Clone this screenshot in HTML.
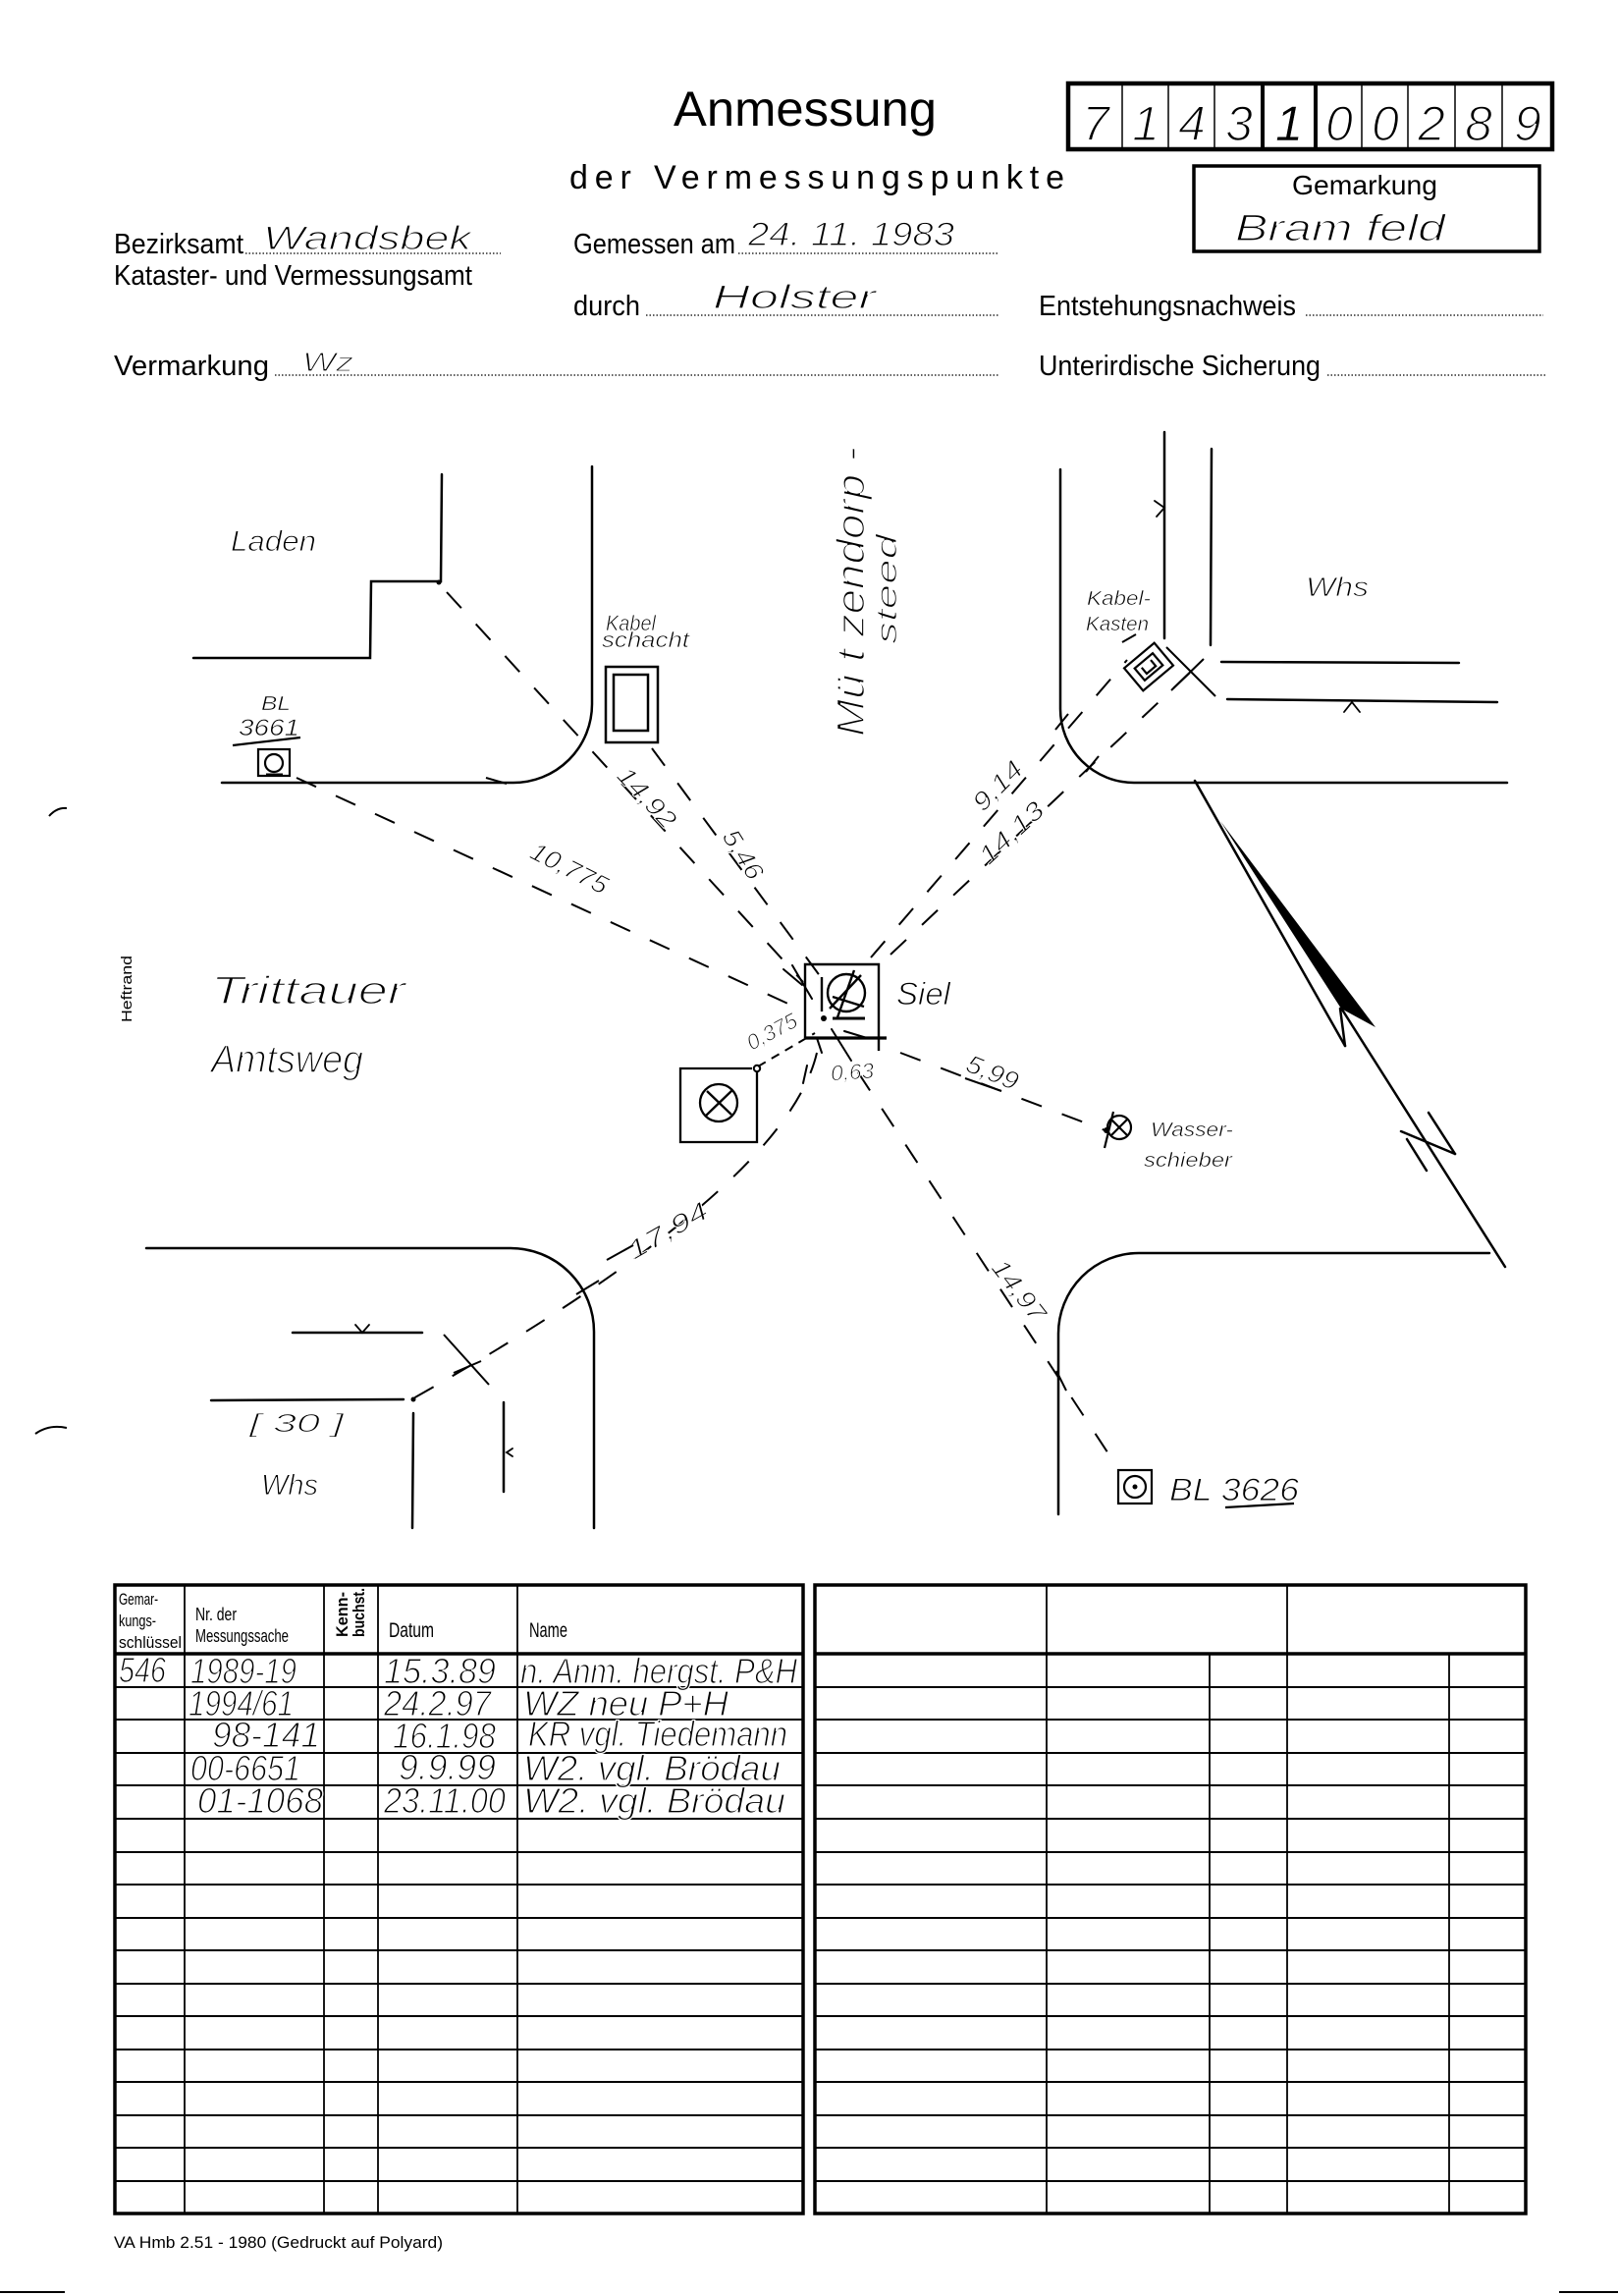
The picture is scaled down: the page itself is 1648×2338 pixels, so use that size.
<!DOCTYPE html>
<html><head><meta charset="utf-8">
<style>
html,body{margin:0;padding:0;background:#fff;}
svg{display:block;}
.p{font-family:"Liberation Sans",sans-serif;fill:#000;}
.h{font-family:"Liberation Sans",sans-serif;font-style:italic;fill:#000;stroke:#fff;stroke-width:1;}
</style></head><body>
<svg width="1648" height="2338" viewBox="0 0 1648 2338" xmlns="http://www.w3.org/2000/svg">
<rect width="1648" height="2338" fill="#fff"/>

<!-- ===== HEADER ===== -->
<text class="p" x="686" y="128" font-size="50" textLength="268" lengthAdjust="spacingAndGlyphs">Anmessung</text>
<text class="p" x="580" y="192" font-size="34" textLength="504" lengthAdjust="spacing">der Vermessungspunkte</text>

<!-- code box -->
<g stroke="#000" fill="none">
<rect x="1088" y="85" width="493" height="67" stroke-width="4.5"/>
<g stroke-width="1.5">
<line x1="1143" y1="85" x2="1143" y2="152"/>
<line x1="1190" y1="85" x2="1190" y2="152"/>
<line x1="1237" y1="85" x2="1237" y2="152"/>
<line x1="1387" y1="85" x2="1387" y2="152"/>
<line x1="1434" y1="85" x2="1434" y2="152"/>
<line x1="1482" y1="85" x2="1482" y2="152"/>
<line x1="1530" y1="85" x2="1530" y2="152"/>
</g>
<line x1="1286" y1="85" x2="1286" y2="152" stroke-width="4"/>
<line x1="1340" y1="85" x2="1340" y2="152" stroke-width="4"/>
</g>
<g class="h" font-size="50" text-anchor="middle" style="stroke-width:1.6">
<text x="1116" y="143">7</text>
<text x="1167" y="143">1</text>
<text x="1214" y="143">4</text>
<text x="1262" y="143">3</text>
<text x="1313" y="143" style="stroke-width:0.4">1</text>
<text x="1364" y="143">0</text>
<text x="1411" y="143">0</text>
<text x="1458" y="143">2</text>
<text x="1506" y="143">8</text>
<text x="1556" y="143">9</text>
</g>

<!-- Gemarkung box -->
<rect x="1216" y="169" width="352" height="87" fill="none" stroke="#000" stroke-width="3.5"/>
<text class="p" x="1316" y="198" font-size="28" textLength="148" lengthAdjust="spacingAndGlyphs">Gemarkung</text>
<text class="h" x="1258" y="245" font-size="38" textLength="214" lengthAdjust="spacingAndGlyphs" style="stroke-width:1.3">Bram feld</text>

<!-- labels -->
<g class="p" font-size="29">
<text x="116" y="258" textLength="132" lengthAdjust="spacingAndGlyphs">Bezirksamt</text>
<text x="116" y="290" textLength="365" lengthAdjust="spacingAndGlyphs">Kataster- und Vermessungsamt</text>
<text x="584" y="258" textLength="165" lengthAdjust="spacingAndGlyphs">Gemessen am</text>
<text x="584" y="321" textLength="68" lengthAdjust="spacingAndGlyphs">durch</text>
<text x="1058" y="321" textLength="262" lengthAdjust="spacingAndGlyphs">Entstehungsnachweis</text>
<text x="116" y="382" textLength="158" lengthAdjust="spacingAndGlyphs">Vermarkung</text>
<text x="1058" y="382" textLength="287" lengthAdjust="spacingAndGlyphs">Unterirdische Sicherung</text>
</g>
<g stroke="#000" stroke-width="1.3" stroke-dasharray="1.5 2">
<line x1="250" y1="258" x2="510" y2="258"/>
<line x1="752" y1="258" x2="1018" y2="258"/>
<line x1="658" y1="321" x2="1018" y2="321"/>
<line x1="1330" y1="321" x2="1572" y2="321"/>
<line x1="280" y1="382" x2="1018" y2="382"/>
<line x1="1352" y1="382" x2="1574" y2="382"/>
</g>
<g class="h" style="stroke-width:1.2">
<text x="268" y="254" font-size="34" textLength="212" lengthAdjust="spacingAndGlyphs">Wandsbek</text>
<text x="762" y="250" font-size="34" textLength="210" lengthAdjust="spacingAndGlyphs">24. 11. 1983</text>
<text x="726" y="314" font-size="34" textLength="166" lengthAdjust="spacingAndGlyphs">Holster</text>
<text x="308" y="378" font-size="28" textLength="52" lengthAdjust="spacingAndGlyphs">Wz</text>
</g>

<!-- Heftrand & margin marks -->
<text class="p" font-size="15" transform="translate(134,1041) rotate(-90)" textLength="68" lengthAdjust="spacingAndGlyphs">Heftrand</text>
<g stroke="#000" fill="none" stroke-width="2">
<path d="M50 831 Q58 822 68 823"/>
<path d="M36 1460 Q50 1450 68 1454"/>
<line x1="0" y1="2334" x2="66" y2="2334"/>
<line x1="1588" y1="2334" x2="1648" y2="2334"/>
</g>

<!-- ===== SKETCH ===== -->
<g stroke="#000" fill="none" stroke-width="2.5" stroke-linecap="round">
<path d="M603 475 L603 717 A80 80 0 0 1 523 797 L226 797"/>
<path d="M1080 478 L1080 722 A75 75 0 0 0 1155 797 L1535 797"/>
<path d="M149 1271 L520 1271 A85 85 0 0 1 605 1356 L605 1556"/>
<path d="M1517 1276 L1160 1276 A82 82 0 0 0 1078 1358 L1078 1542"/>
<path d="M450 483 L449 592 L378 592 L377 670 L197 670"/>
<line x1="1186" y1="440" x2="1186" y2="650"/>
<line x1="1234" y1="457" x2="1233" y2="657"/>
<line x1="1244" y1="674" x2="1486" y2="675"/>
<line x1="1250" y1="712" x2="1525" y2="715"/>
<line x1="298" y1="1357" x2="430" y2="1357"/>
<line x1="215" y1="1426" x2="411" y2="1425"/>
<line x1="421" y1="1439" x2="420" y2="1556"/>
<line x1="513" y1="1428" x2="513" y2="1519"/>
</g>
<g stroke="#000" fill="none" stroke-width="1.8" stroke-linecap="round">
<path d="M1176 510 L1186 517 L1178 526"/>
<path d="M1369 725 L1377 715 L1385 725"/>
<path d="M362 1349 L369 1357 L376 1349"/>
<path d="M522 1475 L516 1479 L522 1483"/>
</g>
<circle cx="447" cy="593" r="2.5" fill="#000"/>
<circle cx="421" cy="1425" r="2.5" fill="#000"/>

<!-- Kabelschacht -->
<g stroke="#000" fill="none" stroke-width="2.5">
<rect x="617" y="679" width="53" height="77"/>
<rect x="625" y="687" width="35" height="57"/>
</g>
<!-- BL 3661 -->
<g stroke="#000" fill="none" stroke-width="2.2">
<rect x="263" y="763" width="32" height="27"/>
<circle cx="279" cy="777" r="9"/>
<line x1="237" y1="759" x2="306" y2="751"/>
<line x1="271" y1="789" x2="288" y2="789" stroke-width="3"/>
</g>
<!-- Kabelkasten -->
<g stroke="#000" fill="none" stroke-width="2.2" transform="translate(1170,679) rotate(-40)">
<rect x="-20" y="-15" width="40" height="30"/>
<rect x="-12" y="-8" width="24" height="16"/>
<path d="M-6 -4 L-6 4 L6 4 L6 -4"/>
</g>
<g stroke="#000" stroke-width="2">
<line x1="1188" y1="659" x2="1238" y2="709"/>
<line x1="1193" y1="703" x2="1226" y2="671"/>
<line x1="1075" y1="743" x2="1088" y2="727"/>
<line x1="1106" y1="786" x2="1119" y2="770"/>
<line x1="1143" y1="654" x2="1157" y2="646"/>
<line x1="587" y1="1318" x2="610" y2="1304"/>
<line x1="452" y1="1359" x2="498" y2="1410"/>
<line x1="462" y1="1398" x2="490" y2="1386"/>
<line x1="495" y1="792" x2="516" y2="798"/>
<line x1="1076" y1="1396" x2="1086" y2="1416"/>
</g>

<!-- Siel -->
<g stroke="#000" fill="none" stroke-width="2.4">
<path d="M820 1057 L820 982 L895 982 L895 1070"/>
<line x1="820" y1="1057" x2="903" y2="1057" stroke-width="3.2"/>
<circle cx="862" cy="1011" r="19"/>
<line x1="870" y1="988" x2="853" y2="1036"/>
<line x1="845" y1="1027" x2="877" y2="993"/>
<line x1="848" y1="1015" x2="880" y2="1025"/>
<line x1="837" y1="995" x2="837" y2="1030"/>
<line x1="848" y1="1037" x2="881" y2="1037" stroke-width="3"/>
</g>
<circle cx="839" cy="1037" r="3" fill="#000"/>
<g stroke="#000" stroke-width="2" stroke-linecap="round">
<line x1="798" y1="987" x2="817" y2="1003"/>
<line x1="807" y1="983" x2="827" y2="1017"/>
<line x1="832" y1="1057" x2="837" y2="1072"/>
<line x1="847" y1="1048" x2="867" y2="1080"/>
<line x1="860" y1="1050" x2="883" y2="1057"/>
<line x1="822" y1="1085" x2="818" y2="1103"/>
</g>

<!-- small box with cross -->
<g stroke="#000" fill="none" stroke-width="2.3">
<path d="M766 1088 L693 1088 L693 1163 L771 1163 L771 1092"/>
<circle cx="732" cy="1123" r="19"/>
<line x1="719" y1="1136" x2="746" y2="1110"/>
<line x1="720" y1="1111" x2="745" y2="1135"/>
<circle cx="771" cy="1088" r="3.2" stroke-width="2"/>
</g>

<!-- Wasserschieber -->
<g stroke="#000" fill="none" stroke-width="2.2">
<circle cx="1140" cy="1148" r="12"/>
<line x1="1132" y1="1140" x2="1148" y2="1156"/>
<line x1="1132" y1="1156" x2="1148" y2="1140"/>
<line x1="1134" y1="1132" x2="1125" y2="1169"/>
</g>
<circle cx="1127" cy="1151" r="3" fill="#000"/>

<!-- BL 3626 -->
<g stroke="#000" fill="none" stroke-width="2.2">
<rect x="1139" y="1497" width="34" height="34"/>
<circle cx="1156" cy="1514" r="11"/>
<line x1="1248" y1="1535" x2="1318" y2="1531"/>
</g>
<circle cx="1156" cy="1514" r="2.5" fill="#000"/>

<!-- North arrow -->
<g stroke="#000" fill="none" stroke-width="2.5" stroke-linecap="round">
<line x1="1217" y1="795" x2="1370" y2="1065"/>
<line x1="1365" y1="1027" x2="1370" y2="1065"/>
<line x1="1367" y1="1028" x2="1533" y2="1290"/>
<line x1="1433" y1="1160" x2="1453" y2="1192"/>
<line x1="1455" y1="1133" x2="1482" y2="1175"/>
<line x1="1427" y1="1152" x2="1482" y2="1175"/>
</g>
<polygon points="1243,836 1401,1046 1366,1027" fill="#000"/>

<!-- dashed measurement lines -->
<g stroke="#000" fill="none" stroke-width="2" stroke-dasharray="22 22">
<line x1="455" y1="603" x2="818" y2="1000"/>
<line x1="664" y1="762" x2="836" y2="995"/>
<line x1="302" y1="792" x2="820" y2="1030"/>
<line x1="887" y1="975" x2="1148" y2="672"/>
<line x1="907" y1="972" x2="1213" y2="684"/>
<line x1="917" y1="1072" x2="1128" y2="1152"/>
<line x1="874" y1="1092" x2="1140" y2="1497"/>
<path d="M832 1072 Q800 1210 421 1424"/>
</g>
<line x1="772" y1="1086" x2="830" y2="1052" stroke="#000" stroke-width="2" stroke-dasharray="9 7"/>

<!-- sketch handwritten labels -->
<g class="h">
<text x="235" y="561" font-size="30" textLength="87" lengthAdjust="spacingAndGlyphs">Laden</text>
<text x="266" y="723" font-size="20" textLength="30" lengthAdjust="spacingAndGlyphs" style="stroke-width:0.6">BL</text>
<text x="243" y="749" font-size="24" textLength="62" lengthAdjust="spacingAndGlyphs" style="stroke-width:0.7">3661</text>
<text x="617" y="642" font-size="22" textLength="51" lengthAdjust="spacingAndGlyphs" style="stroke-width:0.7">Kabel</text>
<text x="613" y="659" font-size="22" textLength="89" lengthAdjust="spacingAndGlyphs" style="stroke-width:0.7">schacht</text>
<text x="1107" y="616" font-size="20" textLength="65" lengthAdjust="spacingAndGlyphs" style="stroke-width:0.6">Kabel-</text>
<text x="1106" y="642" font-size="20" textLength="64" lengthAdjust="spacingAndGlyphs" style="stroke-width:0.6">Kasten</text>
<text x="1330" y="607" font-size="28" textLength="64" lengthAdjust="spacingAndGlyphs">Whs</text>
<text x="913" y="1023" font-size="32" textLength="55" lengthAdjust="spacingAndGlyphs">Siel</text>
<text x="215" y="1022" font-size="40" textLength="198" lengthAdjust="spacingAndGlyphs" style="stroke-width:1.5">Trittauer</text>
<text x="215" y="1092" font-size="40" textLength="155" lengthAdjust="spacingAndGlyphs" style="stroke-width:1.5">Amtsweg</text>
<text x="1172" y="1157" font-size="20" textLength="84" lengthAdjust="spacingAndGlyphs" style="stroke-width:0.6">Wasser-</text>
<text x="1165" y="1188" font-size="20" textLength="90" lengthAdjust="spacingAndGlyphs" style="stroke-width:0.6">schieber</text>
<text x="1191" y="1528" font-size="32" textLength="132" lengthAdjust="spacingAndGlyphs">BL  3626</text>
<text x="254" y="1458" font-size="26" textLength="96" lengthAdjust="spacingAndGlyphs">[ 30 ]</text>
<text x="266" y="1522" font-size="30" textLength="58" lengthAdjust="spacingAndGlyphs">Whs</text>
<text font-size="40" transform="translate(880,750) rotate(-90)" textLength="295" lengthAdjust="spacingAndGlyphs" style="stroke-width:1.6">Mü t zendorp -</text>
<text font-size="30" transform="translate(913,656) rotate(-90)" textLength="112" lengthAdjust="spacingAndGlyphs" style="stroke-width:1.2">steed</text>
<g font-size="26" text-anchor="middle" style="stroke-width:0.9">
<text transform="translate(659,812) rotate(47)" y="9" textLength="75" lengthAdjust="spacingAndGlyphs">14,92</text>
<text transform="translate(757,870) rotate(58)" y="9" textLength="55" lengthAdjust="spacingAndGlyphs">5,46</text>
<text transform="translate(580,884) rotate(27)" y="9" textLength="85" lengthAdjust="spacingAndGlyphs">10,775</text>
<text transform="translate(1016,800) rotate(-45)" y="9" textLength="60" lengthAdjust="spacingAndGlyphs">9,14</text>
<text transform="translate(1030,848) rotate(-43)" y="9" textLength="80" lengthAdjust="spacingAndGlyphs">14,13</text>
<text transform="translate(1011,1092) rotate(22)" y="9" textLength="55" lengthAdjust="spacingAndGlyphs">5,99</text>
<text transform="translate(1038,1314) rotate(52)" y="9" textLength="72" lengthAdjust="spacingAndGlyphs">14,97</text>
<text transform="translate(680,1253) rotate(-30)" y="9" textLength="90" lengthAdjust="spacingAndGlyphs">17,94</text>
<text transform="translate(786,1050) rotate(-28)" y="8" font-size="22" textLength="55" lengthAdjust="spacingAndGlyphs">0,375</text>
<text transform="translate(868,1091) rotate(-4)" y="8" font-size="22" textLength="44" lengthAdjust="spacingAndGlyphs">0,63</text>
</g>
</g>
<g stroke="#000" stroke-width="2">
<line x1="983" y1="1098" x2="1020" y2="1111"/>
<line x1="618" y1="1283" x2="645" y2="1268"/>
</g>

<!-- ===== TABLES ===== -->
<g stroke="#000" fill="none">
<rect x="117" y="1614" width="701" height="640" stroke-width="3.5"/>
<rect x="830" y="1614" width="724" height="640" stroke-width="3.5"/>
<line x1="117" y1="1684" x2="818" y2="1684" stroke-width="3.5"/>
<line x1="830" y1="1684" x2="1554" y2="1684" stroke-width="3.5"/>
<g stroke-width="1.8">
<line x1="188" y1="1614" x2="188" y2="2254"/>
<line x1="330" y1="1614" x2="330" y2="2254"/>
<line x1="385" y1="1614" x2="385" y2="2254"/>
<line x1="527" y1="1614" x2="527" y2="2254"/>
<line x1="1066" y1="1614" x2="1066" y2="2254"/>
<line x1="1311" y1="1614" x2="1311" y2="2254"/>
<line x1="1232" y1="1684" x2="1232" y2="2254"/>
<line x1="1476" y1="1684" x2="1476" y2="2254"/>
</g>
<g stroke-width="2">
<line x1="117" y1="1718" x2="818" y2="1718"/><line x1="830" y1="1718" x2="1554" y2="1718"/>
<line x1="117" y1="1751" x2="818" y2="1751"/><line x1="830" y1="1751" x2="1554" y2="1751"/>
<line x1="117" y1="1785" x2="818" y2="1785"/><line x1="830" y1="1785" x2="1554" y2="1785"/>
<line x1="117" y1="1818" x2="818" y2="1818"/><line x1="830" y1="1818" x2="1554" y2="1818"/>
<line x1="117" y1="1852" x2="818" y2="1852"/><line x1="830" y1="1852" x2="1554" y2="1852"/>
<line x1="117" y1="1886" x2="818" y2="1886"/><line x1="830" y1="1886" x2="1554" y2="1886"/>
<line x1="117" y1="1919" x2="818" y2="1919"/><line x1="830" y1="1919" x2="1554" y2="1919"/>
<line x1="117" y1="1953" x2="818" y2="1953"/><line x1="830" y1="1953" x2="1554" y2="1953"/>
<line x1="117" y1="1986" x2="818" y2="1986"/><line x1="830" y1="1986" x2="1554" y2="1986"/>
<line x1="117" y1="2020" x2="818" y2="2020"/><line x1="830" y1="2020" x2="1554" y2="2020"/>
<line x1="117" y1="2053" x2="818" y2="2053"/><line x1="830" y1="2053" x2="1554" y2="2053"/>
<line x1="117" y1="2087" x2="818" y2="2087"/><line x1="830" y1="2087" x2="1554" y2="2087"/>
<line x1="117" y1="2120" x2="818" y2="2120"/><line x1="830" y1="2120" x2="1554" y2="2120"/>
<line x1="117" y1="2154" x2="818" y2="2154"/><line x1="830" y1="2154" x2="1554" y2="2154"/>
<line x1="117" y1="2187" x2="818" y2="2187"/><line x1="830" y1="2187" x2="1554" y2="2187"/>
<line x1="117" y1="2221" x2="818" y2="2221"/><line x1="830" y1="2221" x2="1554" y2="2221"/>
</g>
</g>

<!-- table header text -->
<g class="p" font-size="17">
<text x="121" y="1634" textLength="40" lengthAdjust="spacingAndGlyphs">Gemar-</text>
<text x="121" y="1656" textLength="38" lengthAdjust="spacingAndGlyphs">kungs-</text>
<text x="121" y="1678" textLength="64" lengthAdjust="spacingAndGlyphs">schlüssel</text>
<text x="199" y="1650" font-size="18" textLength="42" lengthAdjust="spacingAndGlyphs">Nr. der</text>
<text x="199" y="1672" font-size="18" textLength="95" lengthAdjust="spacingAndGlyphs">Messungssache</text>
<text font-size="17" font-weight="bold" transform="translate(354,1667) rotate(-90)" textLength="46" lengthAdjust="spacingAndGlyphs">Kenn-</text>
<text font-size="17" font-weight="bold" transform="translate(371,1667) rotate(-90)" textLength="50" lengthAdjust="spacingAndGlyphs">buchst.</text>
<text x="396" y="1667" font-size="21" textLength="46" lengthAdjust="spacingAndGlyphs">Datum</text>
<text x="539" y="1667" font-size="21" textLength="39" lengthAdjust="spacingAndGlyphs">Name</text>
</g>

<!-- table handwritten entries -->
<g class="h" font-size="36" style="stroke-width:1.3">
<text x="121" y="1713" textLength="48" lengthAdjust="spacingAndGlyphs">546</text>
<text x="194" y="1714" textLength="108" lengthAdjust="spacingAndGlyphs">1989-19</text>
<text x="391" y="1714" textLength="114" lengthAdjust="spacingAndGlyphs">15.3.89</text>
<text x="530" y="1714" textLength="282" lengthAdjust="spacingAndGlyphs">n. Anm. hergst. P&amp;H</text>
<text x="192" y="1747" textLength="107" lengthAdjust="spacingAndGlyphs">1994/61</text>
<text x="391" y="1747" textLength="109" lengthAdjust="spacingAndGlyphs">24.2.97</text>
<text x="533" y="1747" textLength="209" lengthAdjust="spacingAndGlyphs">WZ neu  P+H</text>
<text x="216" y="1779" textLength="110" lengthAdjust="spacingAndGlyphs">98-141</text>
<text x="400" y="1780" textLength="105" lengthAdjust="spacingAndGlyphs">16.1.98</text>
<text x="538" y="1778" textLength="264" lengthAdjust="spacingAndGlyphs">KR vgl. Tiedemann</text>
<text x="194" y="1813" textLength="112" lengthAdjust="spacingAndGlyphs">00-6651</text>
<text x="406" y="1812" textLength="99" lengthAdjust="spacingAndGlyphs">9.9.99</text>
<text x="533" y="1813" textLength="262" lengthAdjust="spacingAndGlyphs">W2. vgl. Brödau</text>
<text x="201" y="1846" textLength="128" lengthAdjust="spacingAndGlyphs">01-1068</text>
<text x="391" y="1846" textLength="124" lengthAdjust="spacingAndGlyphs">23.11.00</text>
<text x="533" y="1846" textLength="267" lengthAdjust="spacingAndGlyphs">W2. vgl. Brödau</text>
</g>

<!-- footer -->
<text class="p" x="116" y="2289" font-size="17" textLength="335" lengthAdjust="spacingAndGlyphs">VA Hmb 2.51 - 1980 (Gedruckt auf Polyard)</text>
</svg>
</body></html>
